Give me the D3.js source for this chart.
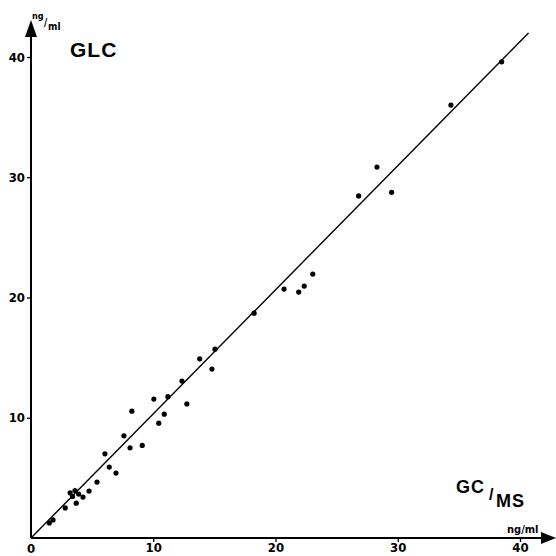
<!DOCTYPE html>
<html>
<head>
<meta charset="utf-8">
<script src="https://cdn.jsdelivr.net/npm/d3@7"></script>
<style>
body { margin: 0; background: #fff; }
.tick text { font-family: "Liberation Sans Narrow", "DejaVu Sans Condensed", sans-serif; font-weight: bold; }
</style>
</head>
<body>
<div id="pageContent"></div>
<script>
// values (GC/MS vs GLC, ng/ml)
var gcms = [1.5, 1.8, 2.8, 3.2, 3.6, 3.9, 3.4, 3.7, 4.25, 4.75, 5.4, 6.05, 6.4, 6.95, 7.6, 8.1, 8.25, 9.1,
    10.05, 10.45, 10.9, 11.2, 12.75, 12.35, 13.8, 14.8, 15.05, 18.25, 20.7, 21.9, 22.35, 23.05,
    26.8, 28.3, 29.5, 34.35, 38.5];
var glc = [1.25, 1.5, 2.5, 3.75, 3.95, 3.65, 3.45, 2.9, 3.4, 3.9, 4.65, 7.0, 5.9, 5.4, 8.5, 7.5, 10.55, 7.7,
    11.55, 9.55, 10.3, 11.75, 11.15, 13.05, 14.9, 14.05, 15.7, 18.7, 20.7, 20.45, 20.95, 21.95,
    28.45, 30.85, 28.75, 36.0, 39.6];
var lineX = [0, 40.7];
var lineY = [0, 42.0];
var tickValues = [0, 10, 20, 30, 40];

var width = 556, height = 556;
var x0 = 31, y0 = 538;

var x = d3.scaleLinear().domain([0, 40]).range([x0, 520]);
var y = d3.scaleLinear().domain([0, 40]).range([y0, 57]);

var svg = d3.select("#pageContent").append("svg")
    .attr("width", width)
    .attr("height", height);

var numFont = "'Liberation Sans Narrow', 'DejaVu Sans Condensed', sans-serif";

// axes
svg.append("g")
    .attr("transform", "translate(0," + y0 + ")")
    .call(d3.axisBottom(x).tickValues(tickValues.slice(1)).tickSize(4).tickPadding(1).tickFormat(d3.format("d")))
    .call(function(g) { g.select(".domain").remove(); })
    .selectAll("text").attr("font-size", 13);

svg.append("g")
    .attr("transform", "translate(" + x0 + ",0)")
    .call(d3.axisLeft(y).tickValues(tickValues.slice(1)).tickSize(4).tickPadding(2).tickFormat(d3.format("d")))
    .call(function(g) { g.select(".domain").remove(); })
    .selectAll("text").attr("font-size", 13);

svg.selectAll(".tick line").attr("stroke", "#000").attr("stroke-width", 1.3);

svg.append("text")
    .attr("x", x0).attr("y", y0 + 15)
    .attr("text-anchor", "middle")
    .attr("font-family", numFont)
    .attr("font-weight", "bold").attr("font-size", 13)
    .text("0");

svg.append("line")
    .attr("x1", x0).attr("y1", y0).attr("x2", x0).attr("y2", 32)
    .attr("stroke", "#000").attr("stroke-width", 2);
svg.append("line")
    .attr("x1", x0).attr("y1", y0).attr("x2", 545).attr("y2", y0)
    .attr("stroke", "#000").attr("stroke-width", 2);

// arrow heads
svg.append("path")
    .attr("d", "M" + x0 + ",20 L" + (x0 - 6) + ",37 L" + (x0 + 6) + ",37 Z")
    .attr("fill", "#000");
svg.append("path")
    .attr("d", "M556," + y0 + " L541," + (y0 - 6) + " L541," + (y0 + 6) + " Z")
    .attr("fill", "#000");

// units
svg.append("text").attr("x", 32).attr("y", 19)
    .attr("font-family", numFont).attr("font-weight", "bold").attr("font-size", 9).text("ng");
svg.append("text").attr("x", 44).attr("y", 26)
    .attr("font-family", numFont).attr("font-weight", "bold").attr("font-size", 10).text("/");
svg.append("text").attr("x", 48).attr("y", 30)
    .attr("font-family", numFont).attr("font-weight", "bold").attr("font-size", 10).text("ml");
svg.append("text").attr("x", 507).attr("y", 533)
    .attr("font-family", numFont).attr("font-weight", "bold").attr("font-size", 11).text("ng/ml");

// titles
var titleFont = "'Liberation Sans', Arial, sans-serif";
svg.append("text").attr("x", 70).attr("y", 57)
    .attr("font-family", titleFont).attr("font-weight", "bold")
    .attr("font-size", 21).attr("letter-spacing", 1).text("GLC");
svg.append("text").attr("x", 456).attr("y", 493)
    .attr("font-family", titleFont).attr("font-weight", "bold")
    .attr("font-size", 18).attr("letter-spacing", 1).text("GC");
svg.append("text").attr("x", 489).attr("y", 500)
    .attr("font-family", titleFont).attr("font-weight", "bold")
    .attr("font-size", 16).text("/");
svg.append("text").attr("x", 496).attr("y", 507)
    .attr("font-family", titleFont).attr("font-weight", "bold")
    .attr("font-size", 18).attr("letter-spacing", 1).text("MS");

// regression line
var lineData = lineX.map(function(d, i) { return [d, lineY[i]]; });
svg.append("path")
    .datum(lineData)
    .attr("d", d3.line().x(function(d) { return x(d[0]); }).y(function(d) { return y(d[1]); }))
    .attr("stroke", "#000").attr("stroke-width", 1.4).attr("fill", "none");

// points
svg.selectAll(".dot")
    .data(gcms)
    .enter().append("circle")
    .attr("class", "dot")
    .attr("cx", function(d) { return x(d); })
    .attr("cy", function(d, i) { return y(glc[i]); })
    .attr("r", 2.6)
    .attr("fill", "#000");
</script>
</body>
</html>
